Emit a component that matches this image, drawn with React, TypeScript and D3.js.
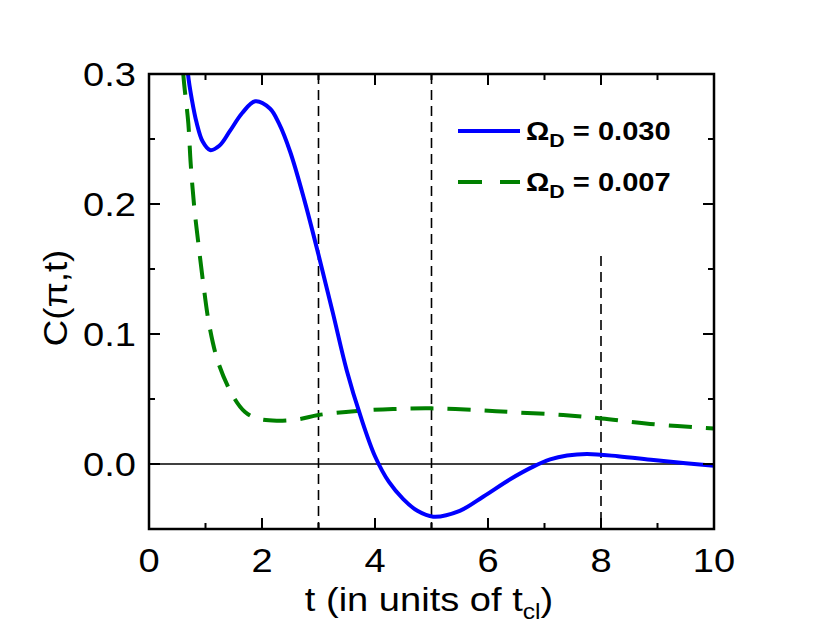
import React from "react";
import * as d3 from "d3";

const blueT = [0.64, 0.69, 0.76, 0.84, 0.95, 1.08, 1.25, 1.43, 1.65, 1.88, 2.14, 2.3, 2.5, 2.75, 3.0, 3.25, 3.5, 3.75, 4.0, 4.25, 4.5, 4.75, 5.03, 5.5, 5.92, 6.4, 6.8, 7.1, 7.4, 7.75, 8.3, 8.93, 9.5, 10];
const blueC = [0.335, 0.3, 0.28, 0.263, 0.248, 0.2415, 0.245, 0.256, 0.27, 0.279, 0.2735, 0.262, 0.24, 0.203, 0.161, 0.117, 0.072, 0.036, 0.006, -0.014, -0.027, -0.036, -0.0405, -0.036, -0.025, -0.0115, -0.002, 0.0035, 0.0065, 0.0077, 0.006, 0.003, 0.0005, -0.0013];
const greenT = [0.58, 0.607, 0.696, 0.738, 0.8, 0.873, 0.96, 1.07, 1.23, 1.49, 1.7, 1.91, 2.26, 2.64, 3.0, 3.68, 4.32, 5.0, 5.8, 6.51, 7.33, 8.01, 8.87, 10];
const greenC = [0.33, 0.3, 0.262, 0.231, 0.198, 0.17, 0.139, 0.106, 0.0775, 0.052, 0.04, 0.035, 0.0333, 0.0344, 0.0377, 0.0408, 0.0423, 0.0428, 0.0415, 0.0397, 0.0377, 0.035, 0.0308, 0.0274];
const xTicks = [0, 2, 4, 6, 8, 10];
const xMinor = [1, 3, 5, 7, 9];
const yTicks = [0, 0.1, 0.2, 0.3];
const yMinor = [-0.05, 0.05, 0.15, 0.25];
const vLines = [{ t: 3, top: 0.3 }, { t: 5, top: 0.3 }, { t: 8, top: 0.16 }];
const legend = [{ label: "0.030", color: "#0000ff", dash: null }, { label: "0.007", color: "#008000", dash: "24,18" }];

const font = "Liberation Sans, Arial, sans-serif";
const stretch = 1.12; // the reference text is a bit wider than the font

// text drawn with the horizontal stretch of the reference
const T = ({ x, y, anchor = "start", size, weight = "normal", children }: any) => (
	<text
		transform={`translate(${x},${y}) scale(${stretch},1)`}
		textAnchor={anchor}
		fontFamily={font}
		fontSize={size}
		fontWeight={weight}
	>
		{children}
	</text>
);

const App = () => {
	const width = 830;
	const height = 636;
	const left = 149, right = 714, top = 74, bottom = 529;
	const x = d3.scaleLinear().domain([0, 10]).range([left, right]);
	const y = d3.scaleLinear().domain([-0.05, 0.3]).range([bottom, top]);
	const line = d3.line<[number, number]>()
		.x((d) => x(d[0]))
		.y((d) => y(d[1]))
		.curve(d3.curveCatmullRom.alpha(0.5));
	const blue = line(blueT.map((t, i) => [t, blueC[i]]));
	const green = line(greenT.map((t, i) => [t, greenC[i]]));
	const major = 11;
	const minor = 6;

	return (
		<svg width={width} height={height} style={{ position: "absolute", left: 0, top: 0, background: "#fff" }}>
			<defs>
				<clipPath id="plot">
					<rect x={left} y={top} width={right - left} height={bottom - top} />
				</clipPath>
			</defs>
			{/* zero line */}
			<line x1={left} x2={right} y1={y(0)} y2={y(0)} stroke="#000" strokeWidth={1.5} />
			{vLines.map((v) => (
				<line key={v.t} x1={x(v.t)} x2={x(v.t)} y1={y(v.top)} y2={bottom} stroke="#000" strokeWidth={1.6} strokeDasharray="10,6" />
			))}
			<g clipPath="url(#plot)">
				<path d={green} fill="none" stroke="#008000" strokeWidth={4} strokeDasharray="23,14" />
				<path d={blue} fill="none" stroke="#0000ff" strokeWidth={4} />
			</g>
			{/* frame */}
			<rect x={left} y={top} width={right - left} height={bottom - top} fill="none" stroke="#000" strokeWidth={2.5} />
			{xTicks.map((t) => (
				<g key={"x" + t}>
					<line x1={x(t)} x2={x(t)} y1={bottom} y2={bottom - major} stroke="#000" strokeWidth={2} />
					<line x1={x(t)} x2={x(t)} y1={top} y2={top + major} stroke="#000" strokeWidth={2} />
					<T x={x(t)} y={572} anchor="middle" size={34}>{t}</T>
				</g>
			))}
			{xMinor.map((t) => (
				<g key={"xm" + t}>
					<line x1={x(t)} x2={x(t)} y1={bottom} y2={bottom - minor} stroke="#000" strokeWidth={2} />
					<line x1={x(t)} x2={x(t)} y1={top} y2={top + minor} stroke="#000" strokeWidth={2} />
				</g>
			))}
			{yTicks.map((v) => (
				<g key={"y" + v}>
					<line x1={left} x2={left + major} y1={y(v)} y2={y(v)} stroke="#000" strokeWidth={2} />
					<line x1={right} x2={right - major} y1={y(v)} y2={y(v)} stroke="#000" strokeWidth={2} />
					<T x={136} y={y(v) + 12} anchor="end" size={34}>{v.toFixed(1)}</T>
				</g>
			))}
			{yMinor.map((v) => (
				<g key={"ym" + v}>
					<line x1={left} x2={left + minor} y1={y(v)} y2={y(v)} stroke="#000" strokeWidth={2} />
					<line x1={right} x2={right - minor} y1={y(v)} y2={y(v)} stroke="#000" strokeWidth={2} />
				</g>
			))}
			<T x={429} y={611} anchor="middle" size={34}>
				t (in units of t<tspan fontSize={22} dy={8}>cl</tspan><tspan dy={-8}>)</tspan>
			</T>
			<text transform="translate(67,298) rotate(-90) scale(1.08,1)" textAnchor="middle" fontFamily={font} fontSize={34}>C(π,t)</text>
			{legend.map((l, i) => {
				const ly = 131 + i * 51;
				return (
					<g key={l.label}>
						<line x1={458} x2={520} y1={ly} y2={ly} stroke={l.color} strokeWidth={4} strokeDasharray={l.dash ?? undefined} />
						<T x={526} y={ly + 9} size={26} weight="bold">
							Ω<tspan fontSize={19} dy={7}>D</tspan><tspan dy={-7}> = {l.label}</tspan>
						</T>
					</g>
				);
			})}
		</svg>
	);
};

export default App;
